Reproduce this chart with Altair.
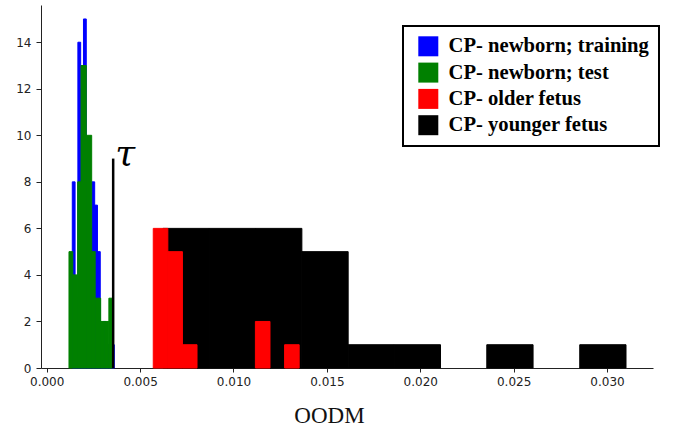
import altair as alt
import pandas as pd

# ---- values (bin edges in OODM units, counts) ----
train_edges = [0.001370, 0.001520, 0.001670, 0.001819, 0.001969, 0.002119, 0.002269,
               0.002419, 0.002569, 0.002718, 0.002868, 0.003018, 0.003168, 0.003318,
               0.003468, 0.003618]
train_counts = [8, 3, 14, 12, 15, 9, 6, 8, 7, 5, 1, 2, 1, 1, 1]

test_edges = [0.001193, 0.001397, 0.001659, 0.001836, 0.002119, 0.002408, 0.002595,
              0.002890, 0.003109, 0.003329, 0.003532]
test_counts = [5, 4, 8, 13, 10, 5, 3, 2, 2, 3]

older_edges = [0.005705, 0.006486, 0.007267, 0.008048, 0.008830, 0.009611, 0.010392,
               0.011174, 0.011955, 0.012736, 0.013517]
older_counts = [6, 5, 1, 0, 0, 0, 0, 2, 0, 1]

younger_edges = [0.006224, 0.008707, 0.011184, 0.013662, 0.016140, 0.018612, 0.021084,
                 0.023562, 0.026040, 0.028539, 0.031016]
younger_counts = [6, 6, 6, 5, 1, 1, 0, 1, 0, 1]

series_names = ["CP- newborn; training", "CP- newborn; test",
                "CP- older fetus", "CP- younger fetus"]
series_colors = ["#0000ff", "#008000", "#ff0000", "#000000"]

tau_x = [0.003559]
tau_top = [9]
tau_label = ["τ"]

x_ticks = [0.000, 0.005, 0.010, 0.015, 0.020, 0.025, 0.030]
y_ticks = [0, 2, 4, 6, 8, 10, 12, 14]

# ---- build table (drawing order: younger, older, training, test) ----
rows = []
for name, edges, counts in [
    (series_names[3], younger_edges, younger_counts),
    (series_names[2], older_edges, older_counts),
    (series_names[0], train_edges, train_counts),
    (series_names[1], test_edges, test_counts),
]:
    for i, c in enumerate(counts):
        if c > 0:
            rows.append({"series": name, "x0": edges[i], "x1": edges[i + 1], "count": c})
df = pd.DataFrame(rows)
tau_df = pd.DataFrame({"x": tau_x, "y0": [0], "y1": tau_top, "label": tau_label})

xscale = alt.Scale(domain=[-0.000305, 0.032461], nice=False, zero=False)
yscale = alt.Scale(domain=[0, 15.6], nice=False, zero=True)
cscale = alt.Scale(domain=series_names, range=series_colors)

bars = alt.Chart(df).mark_rect(strokeWidth=1.0).encode(
    x=alt.X("x0:Q", scale=xscale,
            axis=alt.Axis(values=x_ticks, format=".3f", title="OODM",
                          titleFont="Liberation Serif", titleFontSize=23,
                          titleFontWeight="normal", titleColor="#111",
                          titleX=288, titleY=54, titleAlign="center",
                          titleBaseline="alphabetic",
                          labelFont="DejaVu Sans", labelFontSize=12,
                          labelColor="#222", tickSize=4, tickColor="#222",
                          domainColor="#222", labelPadding=4, grid=False)),
    x2="x1:Q",
    y=alt.Y("count:Q", scale=yscale,
            axis=alt.Axis(values=y_ticks, title=None, labelFont="DejaVu Sans",
                          labelFontSize=12, labelColor="#222", tickSize=5,
                          tickColor="#222", domainColor="#222", labelPadding=5,
                          grid=False)),
    y2=alt.datum(0),
    stroke=alt.Stroke("series:N", scale=cscale, legend=None),
    color=alt.Color("series:N", scale=cscale,
                    legend=alt.Legend(title=None, orient="none", legendX=362, legendY=21,
                                      fillColor="white", padding=10,
                                      symbolType="square", symbolSize=400,
                                      symbolStrokeWidth=0, symbolOffset=5,
                                      labelFont="Liberation Serif", labelFontSize=20.6,
                                      labelFontWeight="bold", labelColor="black",
                                      labelOffset=10, rowPadding=5.3, labelLimit=400)),
)

tau_line = alt.Chart(tau_df).mark_rule(color="black", strokeWidth=2.5).encode(
    x=alt.X("x:Q", scale=xscale),
    y=alt.Y("y0:Q", scale=yscale),
    y2="y1:Q",
)

tau_text = alt.Chart(tau_df).mark_text(font="DejaVu Serif", fontStyle="italic",
                                       fontSize=36, align="left",
                                       baseline="alphabetic", dx=2, dy=6,
                                       color="black").encode(
    x=alt.X("x:Q", scale=xscale),
    y=alt.Y("y1:Q", scale=yscale),
    text="label:N",
)

chart = alt.layer(bars, tau_line, tau_text).properties(
    width=612, height=363,
    autosize=alt.AutoSizeParams(type="none"),
    padding={"left": 41, "top": 5, "right": 22, "bottom": 59},
    background="white",
).configure_view(stroke=None).configure_legend(
    strokeColor="black", strokeWidth=2, cornerRadius=0
)

chart.save("out.html", embed_options={"renderer": "svg", "actions": False})
